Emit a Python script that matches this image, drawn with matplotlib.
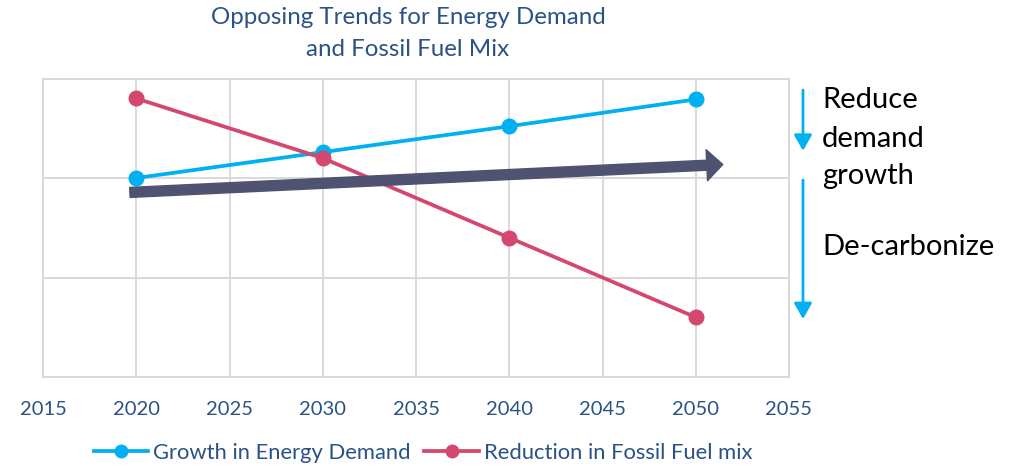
import matplotlib.pyplot as plt
from matplotlib.patches import FancyArrowPatch
from matplotlib.lines import Line2D

# данные
years = [2020, 2030, 2040, 2050]
demand = [2.0, 2.26, 2.52, 2.79]
fossil = [2.80, 2.20, 1.40, 0.60]
xticks = [2015, 2020, 2025, 2030, 2035, 2040, 2045, 2050, 2055]

# стрелка общего тренда и стрелки справа
trend_start = (2019.66, 1.855)
trend_end = (2051.45, 2.136)
arrow_x = 2055.75
reduce_arrow = (2.884, 2.274)
decarb_arrow = (1.98, 0.583)

blue = '#00b0f0'
red = '#d4486f'
navy = '#4f5270'
text_blue = '#2a5286'
grid_c = '#d9d9d9'

W, H = 1022, 466
fig = plt.figure(figsize=(W / 100, H / 100), dpi=100)
ax = fig.add_axes([43 / W, 1 - 377 / H, (789 - 43) / W, (377 - 78.5) / H])

ax.plot(years, demand, color=blue, lw=2.7, marker='o', ms=10.5, zorder=3)
ax.plot(years, fossil, color=red, lw=2.7, marker='o', ms=10.5, zorder=3)

ax.set_xlim(2015, 2055)
ax.set_ylim(0, 3)
ax.set_xticks(xticks)
ax.set_yticks([0, 1, 2, 3])
ax.set_yticklabels([])
ax.tick_params(axis='y', length=0)
ax.tick_params(axis='x', length=0, pad=17, labelsize=14.5, labelcolor=text_blue)
for lab in ax.get_xticklabels():
    lab.set_family('Lato')
ax.grid(color=grid_c, lw=1.4)
ax.set_axisbelow(True)
for s in ax.spines.values():
    s.set_color(grid_c)
    s.set_linewidth(1.4)

ax.add_patch(FancyArrowPatch(trend_start, trend_end,
                             arrowstyle='simple,head_length=1.6,head_width=3.1,tail_width=1.0',
                             mutation_scale=7.2, color=navy, shrinkA=0, shrinkB=0, zorder=4))

for y0, y1 in (reduce_arrow, decarb_arrow):
    ax.add_patch(FancyArrowPatch((arrow_x, y0), (arrow_x, y1),
                                 arrowstyle='-|>,head_length=9.5,head_width=5.4',
                                 mutation_scale=1, color=blue, lw=2,
                                 shrinkA=0, shrinkB=0, clip_on=False))

fs_side = 21
for txt, yb in (('Reduce', 108), ('demand', 146.7), ('growth', 184), ('De-carbonize', 255)):
    fig.text(822 / W, 1 - yb / H, txt, fontsize=fs_side, family='Lato',
             va='baseline', ha='left', color='black')

fig.text(408 / W, 1 - 18 / H, 'Opposing Trends for Energy Demand', fontsize=17.4,
         family='Lato', color=text_blue, ha='center', va='center')
fig.text(408 / W, 1 - 50 / H, 'and Fossil Fuel Mix', fontsize=17.4,
         family='Lato', color=text_blue, ha='center', va='center')

handles = [Line2D([], [], color=blue, lw=2.7, marker='o', ms=9),
           Line2D([], [], color=red, lw=2.7, marker='o', ms=9)]
leg = fig.legend(handles, ['Growth in Energy Demand', 'Reduction in Fossil Fuel mix'],
                 loc='center', bbox_to_anchor=(423 / W, 1 - 453 / H), ncol=2,
                 frameon=False, handlelength=2.5, handletextpad=0.23, columnspacing=0.6,
                 prop={'family': 'Lato', 'size': 15.8})
for t in leg.get_texts():
    t.set_color(text_blue)

fig.savefig('out.png', dpi=100)
